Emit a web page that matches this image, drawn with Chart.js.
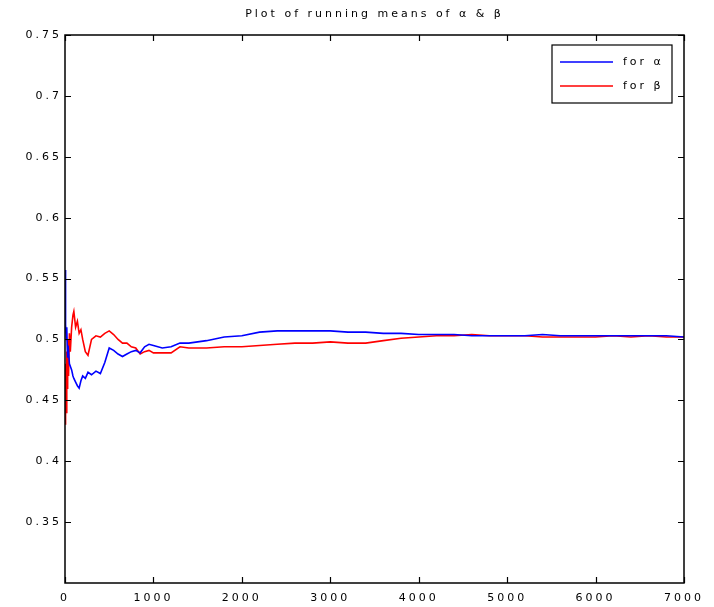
<!DOCTYPE html>
<html>
<head>
<meta charset="utf-8">
<script src="https://cdn.jsdelivr.net/npm/chart.js@4.4.0/dist/chart.umd.min.js"></script>
<style>
  body { margin: 0; background: #fff; }
  canvas { display: block; }
</style>
</head>
<body>
<canvas id="meansChart" width="714" height="607"></canvas>
<script>
const iterations = [0, 3, 6, 10, 15, 20, 25, 30, 40, 50, 60, 75, 90, 100, 120, 140, 160, 180, 200, 230,
    260, 300, 350, 400, 450, 500, 550, 600, 650, 700, 750, 800, 850, 900, 950, 1000, 1100, 1200, 1300,
    1400, 1500, 1600, 1800, 2000, 2200, 2400, 2600, 2800, 3000, 3200, 3400, 3600, 3800, 4000, 4200,
    4400, 4600, 4800, 5000, 5200, 5400, 5600, 5800, 6000, 6200, 6400, 6600, 6800, 7000];

const alphaMeans = [0.557, 0.530, 0.505, 0.512, 0.500, 0.510, 0.495, 0.485, 0.490, 0.480, 0.478, 0.475,
    0.470, 0.468, 0.465, 0.462, 0.460, 0.466, 0.470, 0.468, 0.473, 0.471, 0.474, 0.472, 0.481, 0.493,
    0.491, 0.488, 0.486, 0.488, 0.490, 0.491, 0.489, 0.494, 0.496, 0.495, 0.493, 0.494, 0.497, 0.497,
    0.498, 0.499, 0.502, 0.503, 0.506, 0.507, 0.507, 0.507, 0.507, 0.506, 0.506, 0.505, 0.505, 0.504,
    0.504, 0.504, 0.503, 0.503, 0.503, 0.503, 0.504, 0.503, 0.503, 0.503, 0.503, 0.503, 0.503, 0.503, 0.502];

const betaMeans = [0.480, 0.450, 0.430, 0.470, 0.440, 0.490, 0.460, 0.500, 0.470, 0.505, 0.490, 0.510,
    0.520, 0.523, 0.510, 0.515, 0.505, 0.508, 0.500, 0.490, 0.487, 0.500, 0.503, 0.502, 0.505, 0.507,
    0.504, 0.500, 0.497, 0.497, 0.494, 0.493, 0.488, 0.490, 0.491, 0.489, 0.489, 0.489, 0.494, 0.493,
    0.493, 0.493, 0.494, 0.494, 0.495, 0.496, 0.497, 0.497, 0.498, 0.497, 0.497, 0.499, 0.501, 0.502,
    0.503, 0.503, 0.504, 0.503, 0.503, 0.503, 0.502, 0.502, 0.502, 0.502, 0.503, 0.502, 0.503, 0.502, 0.502];

const xTicks = [0, 1000, 2000, 3000, 4000, 5000, 6000, 7000];
const yTicks = [0.35, 0.4, 0.45, 0.5, 0.55, 0.6, 0.65, 0.7, 0.75];

const FONT = "'DejaVu Sans', sans-serif";

function toPoints(values) {
    return iterations.map((it, i) => ({ x: it, y: values[i] }));
}

// spaced-out text like the old plot
const spacing = {
    id: 'spacing',
    beforeUpdate(chart) { chart.ctx.letterSpacing = '3px'; },
    beforeDraw(chart) { chart.ctx.letterSpacing = '3px'; }
};

// box round the axes with inward ticks on every side, plus the legend
const frame = {
    id: 'frame',
    afterDatasetsDraw(chart) {
        const { ctx, chartArea: a, scales } = chart;
        ctx.save();
        ctx.strokeStyle = '#000';
        ctx.lineWidth = 1.5;
        ctx.strokeRect(a.left, a.top, a.right - a.left, a.bottom - a.top);
        ctx.lineWidth = 1.2;
        ctx.beginPath();
        xTicks.forEach(v => {
            const px = Math.round(scales.x.getPixelForValue(v)) + 0.5;
            ctx.moveTo(px, a.bottom); ctx.lineTo(px, a.bottom - 6);
            ctx.moveTo(px, a.top); ctx.lineTo(px, a.top + 6);
        });
        yTicks.forEach(v => {
            const py = Math.round(scales.y.getPixelForValue(v)) + 0.5;
            ctx.moveTo(a.left, py); ctx.lineTo(a.left + 6, py);
            ctx.moveTo(a.right, py); ctx.lineTo(a.right - 6, py);
        });
        ctx.stroke();

        const bx = a.right - 132, by = a.top + 10, bw = 120, bh = 58;
        ctx.fillStyle = '#fff';
        ctx.fillRect(bx, by, bw, bh);
        ctx.lineWidth = 1.2;
        ctx.strokeRect(bx, by, bw, bh);
        ctx.font = '11px ' + FONT;
        ctx.textBaseline = 'middle';
        ctx.letterSpacing = '3px';
        chart.data.datasets.forEach((ds, i) => {
            const ly = by + 17 + i * 24;
            ctx.strokeStyle = ds.borderColor;
            ctx.lineWidth = 1.5;
            ctx.beginPath();
            ctx.moveTo(bx + 8, ly); ctx.lineTo(bx + 61, ly);
            ctx.stroke();
            ctx.fillStyle = '#000';
            ctx.fillText(ds.label, bx + 71, ly);
        });
        ctx.restore();
    }
};

new Chart(document.getElementById('meansChart'), {
    type: 'line',
    data: {
        datasets: [
            {
                label: 'for α',
                data: toPoints(alphaMeans),
                borderColor: '#0000ff',
                borderWidth: 1.6,
                pointRadius: 0,
                tension: 0
            },
            {
                label: 'for β',
                data: toPoints(betaMeans),
                borderColor: '#ff0000',
                borderWidth: 1.6,
                pointRadius: 0,
                tension: 0
            }
        ]
    },
    options: {
        responsive: false,
        animation: false,
        layout: { padding: 0 },
        plugins: {
            legend: { display: false },
            tooltip: { enabled: false },
            title: {
                display: true,
                fullSize: false,
                text: 'Plot of running means of α & β',
                color: '#000',
                font: { family: FONT, size: 11, weight: 'normal' },
                padding: { top: 8, bottom: 13.8 }
            }
        },
        scales: {
            x: {
                type: 'linear',
                min: 0,
                max: 7000,
                afterBuildTicks: (scale) => { scale.ticks = xTicks.map(v => ({ value: v })); },
                afterFit: (scale) => { scale.height = 24; },
                grid: { display: false, drawTicks: false },
                border: { display: false },
                ticks: {
                    color: '#000',
                    padding: 9,
                    maxRotation: 0,
                    font: { family: FONT, size: 11 },
                    callback: (v) => String(v)
                }
            },
            y: {
                min: 0.3,
                max: 0.75,
                afterBuildTicks: (scale) => { scale.ticks = yTicks.map(v => ({ value: v })); },
                afterFit: (scale) => { scale.width = 65; },
                grid: { display: false, drawTicks: false },
                border: { display: false },
                ticks: {
                    color: '#000',
                    padding: 3,
                    font: { family: FONT, size: 11 },
                    callback: (v) => String(Number(v.toFixed(2)))
                }
            },
            // empty strip on the right so the plot box ends where the original does
            yRight: {
                position: 'right',
                min: 0.3,
                max: 0.75,
                afterFit: (scale) => { scale.width = 30; },
                grid: { display: false, drawTicks: false },
                border: { display: false },
                ticks: { display: false }
            }
        }
    },
    plugins: [spacing, frame]
});
</script>
</body>
</html>
